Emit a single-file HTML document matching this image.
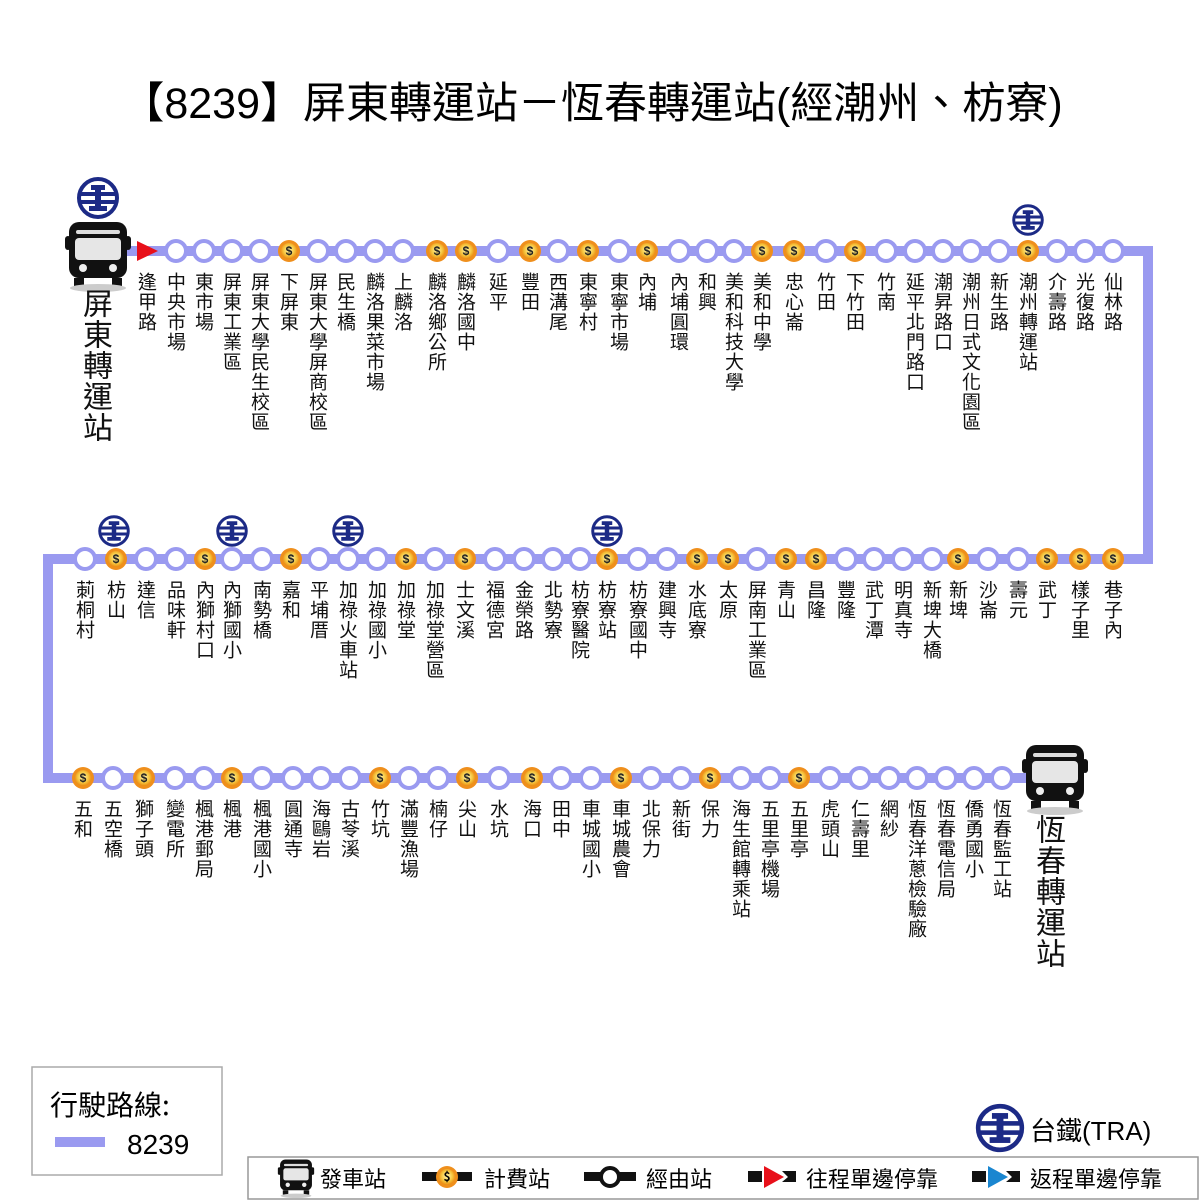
<!DOCTYPE html>
<html><head><meta charset="utf-8"><style>
body{margin:0;background:#fff}
#w{position:relative;width:1200px;height:1200px;overflow:hidden;font-family:"Liberation Sans","Noto Sans CJK TC",sans-serif;color:#111}
.v{position:absolute;writing-mode:vertical-rl;font-size:19px;line-height:22px;width:22px;letter-spacing:1px;font-family:"Noto Sans CJK TC",sans-serif}
.b{font-size:30px;line-height:32px;width:32px}
svg{position:absolute;left:0;top:0}
</style></head><body><div id="w">
<svg width="1200" height="1200" viewBox="0 0 1200 1200">
<defs>
<radialGradient id="g" cx="50%" cy="45%" r="55%"><stop offset="0" stop-color="#fff6b0"/><stop offset="0.6" stop-color="#f7c842"/><stop offset="1" stop-color="#e98a10"/></radialGradient>
<g id="st"><circle r="10" fill="#fff" stroke="#9a9af0" stroke-width="4"/></g>
<g id="cn"><circle r="11" fill="#ef8f1c"/><circle r="8" fill="url(#g)"/></g>
<g id="tra"><circle r="19" fill="#fff" stroke="#1c2a86" stroke-width="4"/><rect x="-17" y="-6" width="34" height="4" fill="#1c2a86"/><rect x="-17" y="2" width="34" height="4" fill="#1c2a86"/><rect x="-7" y="-13" width="14" height="5" fill="#1c2a86"/><rect x="-3" y="-10" width="6" height="20" fill="#1c2a86"/><rect x="-9" y="8" width="18" height="5" fill="#1c2a86"/></g>
<g id="bus"><rect x="-29" y="-30" width="58" height="56" rx="10" fill="#111"/><rect x="-33" y="-16" width="6" height="14" rx="3" fill="#111"/><rect x="27" y="-16" width="6" height="14" rx="3" fill="#111"/><rect x="-22" y="-22" width="44" height="4" rx="2" fill="#ddd"/><rect x="-23" y="-14" width="46" height="22" rx="4" fill="#e6e6e6"/><circle cx="-15" cy="16" r="4" fill="#eee"/><circle cx="15" cy="16" r="4" fill="#eee"/><rect x="-24" y="26" width="10" height="8" fill="#111"/><rect x="14" y="26" width="10" height="8" fill="#111"/><ellipse cx="0" cy="36" rx="28" ry="4" fill="#ccc"/></g>
</defs>
<polyline points="125,251 1148,251 1148,559 48,559 48,778 1040,778" fill="none" stroke="#9a9af0" stroke-width="10"/>
<text x="592" y="118" text-anchor="middle" font-size="43" font-family="Liberation Sans,Noto Sans CJK TC,sans-serif">【8239】屏東轉運站－恆春轉運站(經潮州、枋寮)</text>
<use href="#tra" x="98" y="198"/><use href="#bus" x="98" y="252"/>
<use href="#bus" x="1055" y="775"/>
<polygon points="137,241 137,261 158,251" fill="#e8101a"/>
<g>
<use href="#st" x="176" y="251"/><use href="#st" x="204" y="251"/><use href="#st" x="232" y="251"/><use href="#st" x="260" y="251"/><use href="#cn" x="289" y="251"/><use href="#st" x="318" y="251"/><use href="#st" x="346" y="251"/><use href="#st" x="375" y="251"/><use href="#st" x="403" y="251"/><use href="#cn" x="437" y="251"/><use href="#cn" x="466" y="251"/><use href="#st" x="498" y="251"/><use href="#cn" x="530" y="251"/><use href="#st" x="558" y="251"/><use href="#cn" x="588" y="251"/><use href="#st" x="619" y="251"/><use href="#cn" x="647" y="251"/><use href="#st" x="679" y="251"/><use href="#st" x="707" y="251"/><use href="#st" x="734" y="251"/><use href="#cn" x="762" y="251"/><use href="#cn" x="794" y="251"/><use href="#st" x="826" y="251"/><use href="#cn" x="855" y="251"/><use href="#st" x="886" y="251"/><use href="#st" x="915" y="251"/><use href="#st" x="943" y="251"/><use href="#st" x="971" y="251"/><use href="#st" x="999" y="251"/><use href="#cn" x="1028" y="251"/><use href="#st" x="1057" y="251"/><use href="#st" x="1085" y="251"/><use href="#st" x="1113" y="251"/>
<g transform="translate(1028 220) scale(.75)"><use href="#tra"/></g>
</g>
<g>
<use href="#cn" x="1113" y="559"/><use href="#cn" x="1080" y="559"/><use href="#cn" x="1047" y="559"/><use href="#st" x="1018" y="559"/><use href="#st" x="988" y="559"/><use href="#cn" x="958" y="559"/><use href="#st" x="932" y="559"/><use href="#st" x="903" y="559"/><use href="#st" x="874" y="559"/><use href="#st" x="846" y="559"/><use href="#cn" x="816" y="559"/><use href="#cn" x="786" y="559"/><use href="#st" x="757" y="559"/><use href="#cn" x="728" y="559"/><use href="#cn" x="697" y="559"/><use href="#st" x="667" y="559"/><use href="#st" x="638" y="559"/><use href="#cn" x="607" y="559"/><use href="#st" x="580" y="559"/><use href="#st" x="553" y="559"/><use href="#st" x="524" y="559"/><use href="#st" x="495" y="559"/><use href="#cn" x="465" y="559"/><use href="#st" x="435" y="559"/><use href="#cn" x="406" y="559"/><use href="#st" x="377" y="559"/><use href="#st" x="348" y="559"/><use href="#st" x="319" y="559"/><use href="#cn" x="291" y="559"/><use href="#st" x="262" y="559"/><use href="#st" x="232" y="559"/><use href="#cn" x="205" y="559"/><use href="#st" x="176" y="559"/><use href="#st" x="146" y="559"/><use href="#cn" x="116" y="559"/><use href="#st" x="85" y="559"/>
<g transform="translate(607 531) scale(.75)"><use href="#tra"/></g>
<g transform="translate(348 531) scale(.75)"><use href="#tra"/></g>
<g transform="translate(232 531) scale(.75)"><use href="#tra"/></g>
<g transform="translate(114 531) scale(.75)"><use href="#tra"/></g>
</g>
<g>
<use href="#cn" x="83" y="778"/><use href="#st" x="113" y="778"/><use href="#cn" x="144" y="778"/><use href="#st" x="175" y="778"/><use href="#st" x="204" y="778"/><use href="#cn" x="232" y="778"/><use href="#st" x="262" y="778"/><use href="#st" x="293" y="778"/><use href="#st" x="321" y="778"/><use href="#st" x="350" y="778"/><use href="#cn" x="380" y="778"/><use href="#st" x="409" y="778"/><use href="#st" x="438" y="778"/><use href="#cn" x="467" y="778"/><use href="#st" x="499" y="778"/><use href="#cn" x="532" y="778"/><use href="#st" x="561" y="778"/><use href="#st" x="591" y="778"/><use href="#cn" x="621" y="778"/><use href="#st" x="651" y="778"/><use href="#st" x="681" y="778"/><use href="#cn" x="710" y="778"/><use href="#st" x="741" y="778"/><use href="#st" x="770" y="778"/><use href="#cn" x="799" y="778"/><use href="#st" x="830" y="778"/><use href="#st" x="860" y="778"/><use href="#st" x="889" y="778"/><use href="#st" x="917" y="778"/><use href="#st" x="946" y="778"/><use href="#st" x="974" y="778"/><use href="#st" x="1002" y="778"/>
</g>
<g font-size="12" font-weight="bold" text-anchor="middle" fill="#222" font-family="Liberation Sans,sans-serif">
<text x="289" y="255">$</text><text x="437" y="255">$</text><text x="466" y="255">$</text><text x="530" y="255">$</text><text x="588" y="255">$</text><text x="647" y="255">$</text><text x="762" y="255">$</text><text x="794" y="255">$</text><text x="855" y="255">$</text><text x="1028" y="255">$</text>
<text x="1113" y="563">$</text><text x="1080" y="563">$</text><text x="1047" y="563">$</text><text x="958" y="563">$</text><text x="816" y="563">$</text><text x="786" y="563">$</text><text x="728" y="563">$</text><text x="697" y="563">$</text><text x="607" y="563">$</text><text x="465" y="563">$</text><text x="406" y="563">$</text><text x="291" y="563">$</text><text x="205" y="563">$</text><text x="116" y="563">$</text>
<text x="83" y="782">$</text><text x="144" y="782">$</text><text x="232" y="782">$</text><text x="380" y="782">$</text><text x="467" y="782">$</text><text x="532" y="782">$</text><text x="621" y="782">$</text><text x="710" y="782">$</text><text x="799" y="782">$</text>
</g>
<rect x="32" y="1067" width="190" height="108" fill="#fff" stroke="#aaa" stroke-width="1.5"/>
<text x="50" y="1115" font-size="28" font-family="Noto Sans CJK TC,sans-serif">行駛路線:</text>
<rect x="55" y="1137" width="50" height="10" fill="#9a9af0"/>
<text x="127" y="1154" font-size="28" font-family="Liberation Sans,sans-serif">8239</text>
<g transform="translate(1000 1128) scale(1.15)"><use href="#tra"/></g>
<text x="1030" y="1140" font-size="26" font-family="Liberation Sans,Noto Sans CJK TC,sans-serif">台鐵(TRA)</text>
<rect x="248" y="1157" width="950" height="42" fill="#fff" stroke="#999" stroke-width="1.5"/>
<g transform="translate(296 1176) scale(.55)"><use href="#bus"/></g>
<g font-size="22" font-family="Noto Sans CJK TC,sans-serif">
<text x="320" y="1187">發車站</text>
<rect x="422" y="1172" width="50" height="9" fill="#111"/><use href="#cn" x="447" y="1177"/><text x="447" y="1181" font-size="12" font-weight="bold" text-anchor="middle">$</text>
<text x="484" y="1187">計費站</text>
<rect x="584" y="1172" width="52" height="9" fill="#111"/><circle cx="610" cy="1177" r="9" fill="#fff" stroke="#111" stroke-width="4"/>
<text x="646" y="1187">經由站</text>
<rect x="748" y="1171" width="14" height="11" fill="#111"/><polygon points="764,1166 764,1188 784,1177" fill="#e8101a"/><polygon points="782,1171 796,1171 796,1182 782,1182 788,1177" fill="#111"/>
<text x="806" y="1187">往程單邊停靠</text>
<rect x="972" y="1171" width="14" height="11" fill="#111"/><polygon points="988,1166 988,1188 1008,1177" fill="#1a86d0"/><polygon points="1006,1171 1020,1171 1020,1182 1006,1182 1012,1177" fill="#111"/>
<text x="1030" y="1187">返程單邊停靠</text>
</g>
</svg>
<div class="v b" style="left:82px;top:288px">屏東轉運站</div>
<div class="v b" style="left:1035px;top:814px">恆春轉運站</div>
<div class="v" style="left:136px;top:272px">逢甲路</div>
<div class="v" style="left:165px;top:272px">中央市場</div>
<div class="v" style="left:193px;top:272px">東市場</div>
<div class="v" style="left:221px;top:272px">屏東工業區</div>
<div class="v" style="left:249px;top:272px">屏東大學民生校區</div>
<div class="v" style="left:278px;top:272px">下屏東</div>
<div class="v" style="left:307px;top:272px">屏東大學屏商校區</div>
<div class="v" style="left:335px;top:272px">民生橋</div>
<div class="v" style="left:364px;top:272px">麟洛果菜市場</div>
<div class="v" style="left:392px;top:272px">上麟洛</div>
<div class="v" style="left:426px;top:272px">麟洛鄉公所</div>
<div class="v" style="left:455px;top:272px">麟洛國中</div>
<div class="v" style="left:487px;top:272px">延平</div>
<div class="v" style="left:519px;top:272px">豐田</div>
<div class="v" style="left:547px;top:272px">西溝尾</div>
<div class="v" style="left:577px;top:272px">東寧村</div>
<div class="v" style="left:608px;top:272px">東寧市場</div>
<div class="v" style="left:636px;top:272px">內埔</div>
<div class="v" style="left:668px;top:272px">內埔圓環</div>
<div class="v" style="left:696px;top:272px">和興</div>
<div class="v" style="left:723px;top:272px">美和科技大學</div>
<div class="v" style="left:751px;top:272px">美和中學</div>
<div class="v" style="left:783px;top:272px">忠心崙</div>
<div class="v" style="left:815px;top:272px">竹田</div>
<div class="v" style="left:844px;top:272px">下竹田</div>
<div class="v" style="left:875px;top:272px">竹南</div>
<div class="v" style="left:904px;top:272px">延平北門路口</div>
<div class="v" style="left:932px;top:272px">潮昇路口</div>
<div class="v" style="left:960px;top:272px">潮州日式文化園區</div>
<div class="v" style="left:988px;top:272px">新生路</div>
<div class="v" style="left:1017px;top:272px">潮州轉運站</div>
<div class="v" style="left:1046px;top:272px">介壽路</div>
<div class="v" style="left:1074px;top:272px">光復路</div>
<div class="v" style="left:1102px;top:272px">仙林路</div>
<div class="v" style="left:1102px;top:580px">巷子內</div>
<div class="v" style="left:1069px;top:580px">樣子里</div>
<div class="v" style="left:1036px;top:580px">武丁</div>
<div class="v" style="left:1007px;top:580px">壽元</div>
<div class="v" style="left:977px;top:580px">沙崙</div>
<div class="v" style="left:947px;top:580px">新埤</div>
<div class="v" style="left:921px;top:580px">新埤大橋</div>
<div class="v" style="left:892px;top:580px">明真寺</div>
<div class="v" style="left:863px;top:580px">武丁潭</div>
<div class="v" style="left:835px;top:580px">豐隆</div>
<div class="v" style="left:805px;top:580px">昌隆</div>
<div class="v" style="left:775px;top:580px">青山</div>
<div class="v" style="left:746px;top:580px">屏南工業區</div>
<div class="v" style="left:717px;top:580px">太原</div>
<div class="v" style="left:686px;top:580px">水底寮</div>
<div class="v" style="left:656px;top:580px">建興寺</div>
<div class="v" style="left:627px;top:580px">枋寮國中</div>
<div class="v" style="left:596px;top:580px">枋寮站</div>
<div class="v" style="left:569px;top:580px">枋寮醫院</div>
<div class="v" style="left:542px;top:580px">北勢寮</div>
<div class="v" style="left:513px;top:580px">金榮路</div>
<div class="v" style="left:484px;top:580px">福德宮</div>
<div class="v" style="left:454px;top:580px">士文溪</div>
<div class="v" style="left:424px;top:580px">加祿堂營區</div>
<div class="v" style="left:395px;top:580px">加祿堂</div>
<div class="v" style="left:366px;top:580px">加祿國小</div>
<div class="v" style="left:337px;top:580px">加祿火車站</div>
<div class="v" style="left:308px;top:580px">平埔厝</div>
<div class="v" style="left:280px;top:580px">嘉和</div>
<div class="v" style="left:251px;top:580px">南勢橋</div>
<div class="v" style="left:221px;top:580px">內獅國小</div>
<div class="v" style="left:194px;top:580px">內獅村口</div>
<div class="v" style="left:165px;top:580px">品味軒</div>
<div class="v" style="left:135px;top:580px">達信</div>
<div class="v" style="left:105px;top:580px">枋山</div>
<div class="v" style="left:74px;top:580px">莿桐村</div>
<div class="v" style="left:72px;top:799px">五和</div>
<div class="v" style="left:102px;top:799px">五空橋</div>
<div class="v" style="left:133px;top:799px">獅子頭</div>
<div class="v" style="left:164px;top:799px">變電所</div>
<div class="v" style="left:193px;top:799px">楓港郵局</div>
<div class="v" style="left:221px;top:799px">楓港</div>
<div class="v" style="left:251px;top:799px">楓港國小</div>
<div class="v" style="left:282px;top:799px">圓通寺</div>
<div class="v" style="left:310px;top:799px">海鷗岩</div>
<div class="v" style="left:339px;top:799px">古苓溪</div>
<div class="v" style="left:369px;top:799px">竹坑</div>
<div class="v" style="left:398px;top:799px">滿豐漁場</div>
<div class="v" style="left:427px;top:799px">楠仔</div>
<div class="v" style="left:456px;top:799px">尖山</div>
<div class="v" style="left:488px;top:799px">水坑</div>
<div class="v" style="left:521px;top:799px">海口</div>
<div class="v" style="left:550px;top:799px">田中</div>
<div class="v" style="left:580px;top:799px">車城國小</div>
<div class="v" style="left:610px;top:799px">車城農會</div>
<div class="v" style="left:640px;top:799px">北保力</div>
<div class="v" style="left:670px;top:799px">新街</div>
<div class="v" style="left:699px;top:799px">保力</div>
<div class="v" style="left:730px;top:799px">海生館轉乘站</div>
<div class="v" style="left:759px;top:799px">五里亭機場</div>
<div class="v" style="left:788px;top:799px">五里亭</div>
<div class="v" style="left:819px;top:799px">虎頭山</div>
<div class="v" style="left:849px;top:799px">仁壽里</div>
<div class="v" style="left:878px;top:799px">網紗</div>
<div class="v" style="left:906px;top:799px">恆春洋蔥檢驗廠</div>
<div class="v" style="left:935px;top:799px">恆春電信局</div>
<div class="v" style="left:963px;top:799px">僑勇國小</div>
<div class="v" style="left:991px;top:799px">恆春監工站</div>
</div></body></html>
